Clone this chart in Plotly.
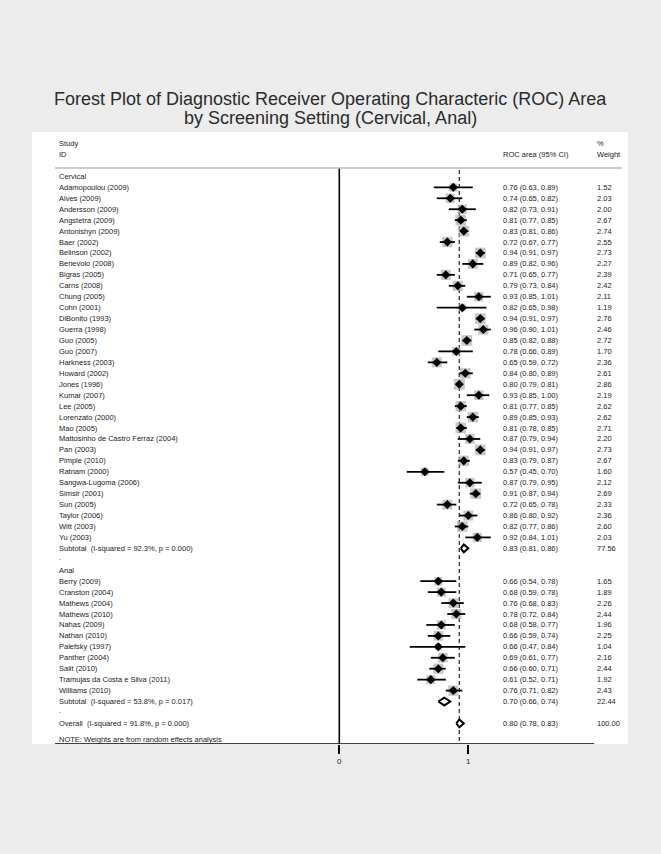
import plotly.graph_objects as go
import math

# ---------------- data ----------------
cerv_names = ["Adamopoulou (2009)", "Alves (2009)", "Andersson (2009)", "Angstetra (2009)",
              "Antonishyn (2009)", "Baer (2002)", "Belinson (2002)", "Benevolo (2008)",
              "Bigras (2005)", "Carns (2008)", "Chung (2005)", "Cohn (2001)", "DiBonito (1993)",
              "Guerra (1998)", "Guo (2005)", "Guo (2007)", "Harkness (2003)", "Howard (2002)",
              "Jones (1996)", "Kumar (2007)", "Lee (2005)", "Lorenzato (2000)", "Mao (2005)",
              "Mattosinho de Castro Ferraz (2004)", "Pan (2003)", "Pimple (2010)", "Ratnam (2000)",
              "Sangwa-Lugoma (2006)", "Simsir (2001)", "Sun (2005)", "Taylor (2006)", "Witt (2003)",
              "Yu (2003)"]
cerv_est = [0.76, 0.74, 0.82, 0.81, 0.83, 0.72, 0.94, 0.89, 0.71, 0.79, 0.93, 0.82, 0.94, 0.96,
            0.85, 0.78, 0.65, 0.84, 0.80, 0.93, 0.81, 0.89, 0.81, 0.87, 0.94, 0.83, 0.57, 0.87,
            0.91, 0.72, 0.86, 0.82, 0.92]
cerv_lo = [0.63, 0.65, 0.73, 0.77, 0.81, 0.67, 0.91, 0.82, 0.65, 0.73, 0.85, 0.65, 0.91, 0.90,
           0.82, 0.66, 0.59, 0.80, 0.79, 0.85, 0.77, 0.85, 0.78, 0.79, 0.91, 0.79, 0.45, 0.79,
           0.87, 0.65, 0.80, 0.77, 0.84]
cerv_hi = [0.89, 0.82, 0.91, 0.85, 0.86, 0.77, 0.97, 0.96, 0.77, 0.84, 1.01, 0.98, 0.97, 1.01,
           0.88, 0.89, 0.72, 0.89, 0.81, 1.00, 0.85, 0.93, 0.85, 0.94, 0.97, 0.87, 0.70, 0.95,
           0.94, 0.78, 0.92, 0.86, 1.01]
cerv_w = [1.52, 2.03, 2.00, 2.67, 2.74, 2.55, 2.73, 2.27, 2.39, 2.42, 2.11, 1.19, 2.76, 2.46,
          2.72, 1.70, 2.36, 2.61, 2.86, 2.19, 2.62, 2.62, 2.71, 2.20, 2.73, 2.67, 1.60, 2.12,
          2.69, 2.33, 2.36, 2.60, 2.03]

anal_names = ["Berry (2009)", "Cranston (2004)", "Mathews (2004)", "Mathews (2010)", "Nahas (2009)",
              "Nathan (2010)", "Palefsky (1997)", "Panther (2004)", "Salit (2010)",
              "Tramujas da Costa e Silva (2011)", "Williams (2010)"]
anal_est = [0.66, 0.68, 0.76, 0.78, 0.68, 0.66, 0.66, 0.69, 0.66, 0.61, 0.76]
anal_lo = [0.54, 0.59, 0.68, 0.72, 0.58, 0.59, 0.47, 0.61, 0.60, 0.52, 0.71]
anal_hi = [0.78, 0.78, 0.83, 0.84, 0.77, 0.74, 0.84, 0.77, 0.71, 0.71, 0.82]
anal_w = [1.65, 1.89, 2.26, 2.44, 1.96, 2.25, 1.04, 2.16, 2.44, 1.92, 2.43]

pooled_labels = ["Subtotal  (I-squared = 92.3%, p = 0.000)",
                 "Subtotal  (I-squared = 53.8%, p = 0.017)",
                 "Overall  (I-squared = 91.8%, p = 0.000)"]
pooled_est = [0.83, 0.70, 0.80]
pooled_lo = [0.81, 0.66, 0.78]
pooled_hi = [0.86, 0.74, 0.83]
pooled_w = [77.56, 22.44, 100.00]

group_labels = ["Cervical", "Anal"]
tick_vals = [0, 0.86]
tick_text = ["0", "1"]

title_lines = ["Forest Plot of Diagnostic Receiver Operating Characteric (ROC) Area",
               "by Screening Setting (Cervical, Anal)"]

# ---------------- layout helpers ----------------
W, H = 661, 854
PX0, PX1 = 32, 628          # plot area (white) in pixels
PY0, PY1 = 132, 744
ZERO_PX, SCALE = 339.3, 150.0
ROW0_PX, ROW_H = 176.4, 10.94

xr = [(PX0 - ZERO_PX) / SCALE, (PX1 - ZERO_PX) / SCALE]
yr = [(PY1 - ROW0_PX) / ROW_H, (PY0 - ROW0_PX) / ROW_H]


def px2x(px):
    return (px - ZERO_PX) / SCALE


def py2r(py):
    return (py - ROW0_PX) / ROW_H


# rows
rows_c = list(range(1, 1 + len(cerv_names)))
sub_c_row = rows_c[-1] + 1
dot1_row = sub_c_row + 1
anal_hdr_row = dot1_row + 1
rows_a = list(range(anal_hdr_row + 1, anal_hdr_row + 1 + len(anal_names)))
sub_a_row = rows_a[-1] + 1
dot2_row = sub_a_row + 1
overall_row = dot2_row + 1
pooled_rows = [sub_c_row, sub_a_row, overall_row]

names = cerv_names + anal_names
est = cerv_est + anal_est
lo = cerv_lo + anal_lo
hi = cerv_hi + anal_hi
wts = cerv_w + anal_w
rows = rows_c + rows_a

TXT = "#1a1a1a"
FONT = "Liberation Sans, Arial, Helvetica, sans-serif"
FS = 7.5

fig = go.Figure()

# weight boxes
fig.add_trace(go.Scatter(
    x=est, y=rows, mode="markers",
    marker=dict(symbol="square", size=[6.5 * math.sqrt(w) for w in wts], color="#b0b0b0",
                line=dict(width=0)),
    hoverinfo="skip", showlegend=False))

# CI lines
cx, cy = [], []
for l, h_, r in zip(lo, hi, rows):
    cx += [l, h_, None]
    cy += [r, r, None]
fig.add_trace(go.Scatter(x=cx, y=cy, mode="lines", line=dict(color="black", width=1.8),
                         hoverinfo="skip", showlegend=False))

# point estimates
fig.add_trace(go.Scatter(x=est, y=rows, mode="markers",
                         marker=dict(symbol="diamond", size=7, color="black"),
                         hoverinfo="skip", showlegend=False))

# pooled diamonds
for e, l, h_, r in zip(pooled_est, pooled_lo, pooled_hi, pooled_rows):
    hh = 0.36
    fig.add_trace(go.Scatter(x=[l, e, h_, e, l], y=[r, r - hh, r, r + hh, r], mode="lines",
                             fill="toself", fillcolor="white",
                             line=dict(color="black", width=2),
                             hoverinfo="skip", showlegend=False))

# overall dashed line
fig.add_shape(type="line", x0=pooled_est[2], x1=pooled_est[2], y0=py2r(170), y1=yr[0],
              line=dict(color="#333333", width=1.3, dash="4px,3px"), layer="below")
# null vertical line at 0
fig.add_shape(type="line", x0=0, x1=0, y0=py2r(168), y1=yr[0],
              line=dict(color="black", width=1.6))
# header line
fig.add_shape(type="line", x0=px2x(55), x1=px2x(622), y0=py2r(168), y1=py2r(168),
              line=dict(color="#bdbdbd", width=1.5))
# axis line
fig.add_shape(type="line", x0=px2x(55), x1=px2x(594), y0=yr[0], y1=yr[0],
              line=dict(color="black", width=1.6))

# ---------------- text ----------------
NAME_X = 57 / W
CI_X = 501 / W
WT_X = 595 / W


def txt(x, r, s, size=FS, color=TXT):
    fig.add_annotation(x=x, y=r, xref="paper", yref="y", text=s, showarrow=False,
                       xanchor="left", yanchor="middle", font=dict(size=size, color=color, family=FONT))


txt(NAME_X, py2r(144), "Study")
txt(NAME_X, py2r(155), "ID")
txt(CI_X, py2r(155), "ROC area (95% CI)")
txt(WT_X, py2r(144), "%")
txt(WT_X, py2r(155), "Weight")

txt(NAME_X, 0, group_labels[0])
txt(NAME_X, anal_hdr_row, group_labels[1])
txt(NAME_X, dot1_row - 0.2, ".")
txt(NAME_X, dot2_row - 0.2, ".")

for n, e, l, h_, w, r in zip(names, est, lo, hi, wts, rows):
    txt(NAME_X, r, n)
    txt(CI_X, r, f"{e:.2f} ({l:.2f}, {h_:.2f})")
    txt(WT_X, r, f"{w:.2f}")

for n, e, l, h_, w, r in zip(pooled_labels, pooled_est, pooled_lo, pooled_hi, pooled_w, pooled_rows):
    txt(NAME_X, r, n)
    txt(CI_X, r, f"{e:.2f} ({l:.2f}, {h_:.2f})")
    txt(WT_X, r, f"{w:.2f}")

txt(NAME_X, py2r(739), "NOTE: Weights are from random effects analysis")

# title
for i, (t, py) in enumerate(zip(title_lines, [99, 118])):
    fig.add_annotation(x=0.5, y=1 - py / H, xref="paper", yref="paper", text=t, showarrow=False,
                       xanchor="center", yanchor="middle",
                       font=dict(size=18, color="#2b2b2b", family=FONT))

fig.update_layout(
    width=W, height=H, margin=dict(l=0, r=0, t=0, b=0),
    paper_bgcolor="#ececec", plot_bgcolor="white",
    xaxis=dict(domain=[PX0 / W, PX1 / W], range=xr, showgrid=False, zeroline=False,
               showline=False, tickvals=tick_vals, ticktext=tick_text, ticks="outside",
               ticklen=9, tickwidth=1.6, tickcolor="black",
               tickfont=dict(size=8, color=TXT, family=FONT), fixedrange=True),
    yaxis=dict(domain=[1 - PY1 / H, 1 - PY0 / H], range=yr, showgrid=False, zeroline=False,
               showline=False, showticklabels=False, ticks="", fixedrange=True),
    showlegend=False,
)

fig.write_html("out.html", config={"displayModeBar": False},
               post_script="document.body.style.margin='0';document.body.style.overflow='hidden';")
